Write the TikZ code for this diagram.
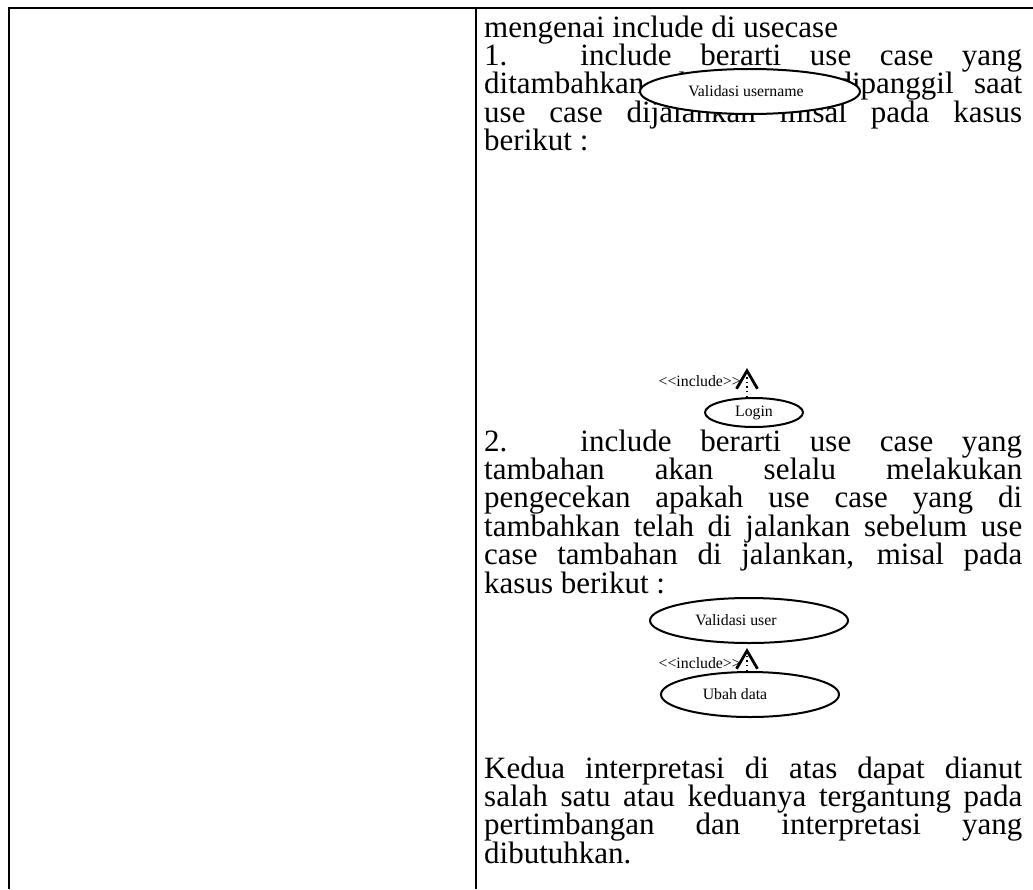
\documentclass[tikz,border=0pt]{standalone}
\usepackage{fontspec}
\setmainfont{Liberation Serif}
\usetikzlibrary{arrows.meta,shapes.geometric}
% body text: large serif with tight, fixed line pitch
\newcommand\bodyfont{\fontsize{31}{28.4}\selectfont\lineskiplimit=-20pt\relax}
\begin{document}
\begin{tikzpicture}[x=1pt,y=-1pt,
  rule/.style={line width=2pt},
  body/.style={anchor=base west, text width=538pt, align=justify, inner sep=0pt,
    font=\bodyfont},
  uc/.style={ellipse, draw, line width=2pt, fill=white, inner sep=0pt},
  small/.style={font=\fontsize{15.8}{18}\selectfont, inner sep=0pt},
  incl/.style={line width=1.4pt, dash pattern=on 1.4pt off 3.2pt,
    -{Straight Barb[length=18pt,width=21pt,line width=2.8pt]}}
]
\useasboundingbox (0,0) rectangle (1033,889);

% table frame
\draw[rule] (9,889) -- (9,8) -- (1033,8);
\draw[rule] (476,8) -- (476,889);

% first paragraph
\node[body] (p1) at (484,37) {mengenai include di usecase\par
1. include berarti use case yang\linebreak
ditambahkan akan selalu dipanggil saat\linebreak
use case dijalankan misal pada kasus\linebreak
berikut :};

% first use case pair
\node[uc, minimum width=220pt, minimum height=45pt] (vun) at (750,91.5) {};
\node[small] (vun-t) at (746,91.5) {Validasi username};
\node[uc, small, minimum width=98pt, minimum height=29pt] (login) at (754,412.5) {Login};
\coordinate (tip1) at (747,368);
\draw[incl] (login.north -| tip1) -- (tip1);
\node[small, anchor=base east] (inc1) at (741,386) {{<}{<}include{>}{>}};

% second paragraph
\node[body] (p2) at (484,451) {2. include berarti use case yang\linebreak
tambahan akan selalu melakukan\linebreak
pengecekan apakah use case yang di\linebreak
tambahkan telah di jalankan sebelum use\linebreak
case tambahan di jalankan, misal pada\linebreak
kasus berikut :};

% second use case pair
\node[uc, minimum width=198pt, minimum height=45pt] (vu) at (749,620.5) {};
\node[small] (vu-t) at (736,620.5) {Validasi user};
\node[uc, minimum width=178pt, minimum height=45pt] (ud) at (750,694.5) {};
\node[small] (ud-t) at (735,694.5) {Ubah data};
\coordinate (tip2) at (747,648);
\draw[incl] (ud.north -| tip2) -- (tip2);
\node[small, anchor=base east] (inc2) at (741,668) {{<}{<}include{>}{>}};

% closing paragraph
\node[body] (p3) at (484,778) {Kedua interpretasi di atas dapat dianut\linebreak
salah satu atau keduanya tergantung pada\linebreak
pertimbangan dan interpretasi yang\linebreak
dibutuhkan.};
\end{tikzpicture}
\end{document}
